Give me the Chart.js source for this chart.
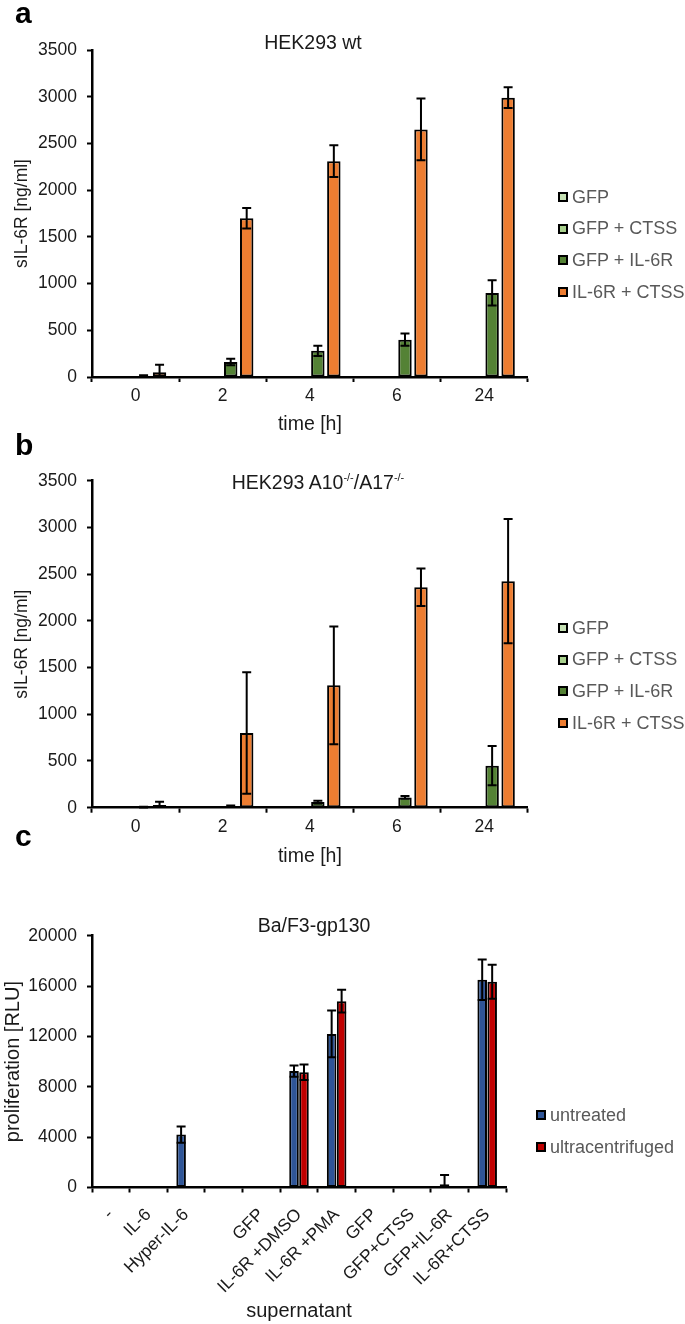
<!DOCTYPE html>
<html>
<head>
<meta charset="utf-8">
<script src="https://cdn.jsdelivr.net/npm/chart.js@4.4.0/dist/chart.umd.min.js"></script>
<style>
  body { margin: 0; background: #fff; }
  #page { position: relative; width: 685px; height: 1324px; overflow: hidden; font-family: 'Liberation Sans', Arial, sans-serif; }
  canvas { position: absolute; left: 0; }
  .letter { position: absolute; font-weight: bold; font-size: 30px; line-height: 30px; color: #000; }
  .ptitle { position: absolute; font-size: 19.5px; line-height: 20px; color: #1a1a1a; text-align: center; width: 300px; white-space: nowrap; }
  .ptitle sup { font-size: 11px; vertical-align: 8px; line-height: 0; }
  .legend { position: absolute; font-size: 18px; color: #595959; }
  .legend .row { position: absolute; display: flex; align-items: center; white-space: nowrap; height: 20px; }
  .legend .sw { width: 10px; height: 10px; box-sizing: border-box; border: 2px solid #000; margin-right: 4px; }
</style>
</head>
<body>
<div id="page">
  <canvas id="chart-a" width="685" height="440" style="top:0px"></canvas>
  <canvas id="chart-b" width="685" height="432" style="top:440px"></canvas>
  <canvas id="chart-c" width="685" height="452" style="top:872px"></canvas>

  <div class="letter" style="left:15px; top:-2px">a</div>
  <div class="letter" style="left:15px; top:430px">b</div>
  <div class="letter" style="left:15px; top:821px">c</div>

  <div class="ptitle" style="left:163px; top:31.5px">HEK293 wt</div>
  <div class="ptitle" style="left:168px; top:471.7px">HEK293 A10<sup>-/-</sup>/A17<sup>-/-</sup></div>
  <div class="ptitle" style="left:164px; top:915px">Ba/F3-gp130</div>

  <div class="legend" id="legend-a"></div>
  <div class="legend" id="legend-b"></div>
  <div class="legend" id="legend-c"></div>
</div>

<script>
// --- DATA ---
const timeLabels = ['0', '2', '4', '6', '24'];
const seriesNames = ['GFP', 'GFP + CTSS', 'GFP + IL-6R', 'IL-6R + CTSS'];
const seriesColors = ['#c5e0b4', '#a9d18e', '#548235', '#ed7d31'];

// a: HEK293 wt, sIL-6R [ng/ml]
const wtGfp = [5, 5, 5, 5, 5];
const wtGfpCtss = [5, 5, 5, 5, 5];
const wtGfpIl6r = [12, 160, 280, 400, 900];
const wtIl6rCtss = [50, 1700, 2310, 2650, 2990];
const wtGfpIl6rErr = [8, 35, 55, 65, 135];
const wtIl6rCtssErr = [80, 110, 170, 330, 110];

// b: HEK293 A10-/-/A17-/-
const koGfp = [4, 4, 4, 4, 4];
const koGfpCtss = [4, 4, 4, 4, 4];
const koGfpIl6r = [5, 15, 60, 110, 450];
const koIl6rCtss = [30, 800, 1310, 2360, 2425];
const koGfpIl6rErr = [4, 8, 15, 15, 210];
const koIl6rCtssErr = [35, 650, 630, 200, 665];

// c: Ba/F3-gp130 proliferation [RLU]
const supLabels = ['-', 'IL-6', 'Hyper-IL-6', '', 'GFP', 'IL-6R +DMSO', 'IL-6R +PMA', 'GFP', 'GFP+CTSS', 'GFP+IL-6R', 'IL-6R+CTSS'];
const untreated = [0, 0, 4200, 0, 0, 9250, 12200, 0, 0, 250, 16500];
const untreatedErr = [0, 0, 650, 0, 0, 450, 1850, 0, 0, 750, 1600];
const ultra = [0, 0, 0, 0, 0, 9150, 14800, 0, 0, 0, 16350];
const ultraErr = [0, 0, 0, 0, 0, 620, 900, 0, 0, 0, 1350];
const cNames = ['untreated', 'ultracentrifuged'];
const cColors = ['#2f5597', '#c00000'];

const FONT = "'Liberation Sans', Arial, sans-serif";
const TXT = '#1a1a1a';

// error bars drawn with the chart's own y scale
const errorBarPlugin = {
  id: 'errorBars',
  afterDatasetsDraw(chart) {
    const ctx = chart.ctx;
    const y = chart.scales.y;
    ctx.save();
    ctx.strokeStyle = '#000';
    ctx.lineWidth = 2;
    chart.data.datasets.forEach((ds, i) => {
      if (!ds.errors) return;
      chart.getDatasetMeta(i).data.forEach((bar, j) => {
        const v = ds.data[j], e = ds.errors[j];
        if (v == null || !e) return;
        const x = bar.x, cap = 4.5;
        const top = y.getPixelForValue(v + e);
        const low = v - e;
        const bot = y.getPixelForValue(Math.max(low, 0));
        ctx.beginPath();
        ctx.moveTo(x, top); ctx.lineTo(x, bot);
        ctx.moveTo(x - cap, top); ctx.lineTo(x + cap, top);
        if (low > 0) { ctx.moveTo(x - cap, bot); ctx.lineTo(x + cap, bot); }
        ctx.stroke();
      });
    });
    ctx.restore();
  }
};

function makeDataset(label, data, errors, color, catPct, barPct) {
  return {
    label: label, data: data, errors: errors,
    backgroundColor: color, borderColor: '#000', borderWidth: 2, borderSkipped: false,
    categoryPercentage: catPct, barPercentage: barPct
  };
}

function makeOptions(p) {
  return {
    responsive: false,
    animation: false,
    devicePixelRatio: 1,
    layout: { padding: { top: p.top, right: p.right, bottom: 0, left: 0 } },
    plugins: { legend: { display: false }, tooltip: { enabled: false } },
    scales: {
      x: {
        ticks: { color: TXT, font: { family: FONT, size: 17.5 }, padding: p.xPad, autoSkip: false,
                 minRotation: p.rot, maxRotation: p.rot },
        grid: { display: true, drawOnChartArea: false, offset: true, tickLength: 5, tickWidth: 2, tickColor: '#000' },
        border: { display: true, color: '#000', width: 2.5 },
        title: { display: true, text: p.xTitle, color: TXT, font: { family: FONT, size: p.xTitleSize },
                 padding: { top: 0, bottom: p.xTitlePad } },
        afterFit(scale) { scale.height = p.xHeight; }
      },
      y: {
        min: 0, max: p.yMax,
        ticks: { stepSize: p.yStep, color: TXT, font: { family: FONT, size: 17.5 }, padding: 10,
                 callback: v => String(v) },
        grid: { display: true, drawOnChartArea: false, tickLength: 5, tickWidth: 2, tickColor: '#000' },
        border: { display: true, color: '#000', width: 2.5 },
        title: { display: true, text: p.yTitle, color: TXT, font: { family: FONT, size: p.yTitleSize },
                 padding: { top: p.yTitlePad, bottom: 0 } },
        afterFit(scale) { scale.width = 92; }
      }
    }
  };
}

function timeChart(id, sets, errs) {
  const isA = id === 'chart-a';
  new Chart(document.getElementById(id), {
    type: 'bar',
    data: {
      labels: timeLabels,
      datasets: sets.map((d, i) => makeDataset(seriesNames[i], d, errs[i], seriesColors[i], 0.734, 0.84))
    },
    options: makeOptions({ top: isA ? 50 : 40.7, right: 157.3, rot: 0, xPad: 4,
      xTitle: 'time [h]', xTitleSize: 19.5, xTitlePad: isA ? 3.3 : 3.6, xHeight: isA ? 63 : 64.3,
      yMax: 3500, yStep: 500, yTitle: 'sIL-6R [ng/ml]', yTitleSize: 17.5, yTitlePad: 12 }),
    plugins: [errorBarPlugin]
  });
}

timeChart('chart-a', [wtGfp, wtGfpCtss, wtGfpIl6r, wtIl6rCtss], [null, null, wtGfpIl6rErr, wtIl6rCtssErr]);
timeChart('chart-b', [koGfp, koGfpCtss, koGfpIl6r, koIl6rCtss], [null, null, koGfpIl6rErr, koIl6rCtssErr]);

new Chart(document.getElementById('chart-c'), {
  type: 'bar',
  data: {
    labels: supLabels,
    datasets: [
      makeDataset(cNames[0], untreated, untreatedErr, cColors[0], 0.53, 0.96),
      makeDataset(cNames[1], ultra, ultraErr, cColors[1], 0.53, 0.96)
    ]
  },
  options: makeOptions({ top: 63.7, right: 179, rot: 45, xPad: 12,
    xTitle: 'supernatant', xTitleSize: 20, xTitlePad: 0.3, xHeight: 136.5,
    yMax: 20000, yStep: 4000, yTitle: 'proliferation [RLU]', yTitleSize: 20, yTitlePad: 1.5 }),
  plugins: [errorBarPlugin]
});

// legends (html, positioned like the figure)
function buildLegend(id, names, colors, left, rowsY) {
  const box = document.getElementById(id);
  names.forEach((n, i) => {
    const row = document.createElement('div');
    row.className = 'row';
    row.style.left = left + 'px';
    row.style.top = (rowsY[i] - 10) + 'px';
    row.innerHTML = `<span class="sw" style="background:${colors[i]}"></span><span>${n}</span>`;
    box.appendChild(row);
  });
}
buildLegend('legend-a', seriesNames, seriesColors, 558, [197, 228.5, 260, 292]);
buildLegend('legend-b', seriesNames, seriesColors, 558, [628, 659.5, 691, 723]);
buildLegend('legend-c', cNames, cColors, 536, [1115, 1147]);
</script>
</body>
</html>
